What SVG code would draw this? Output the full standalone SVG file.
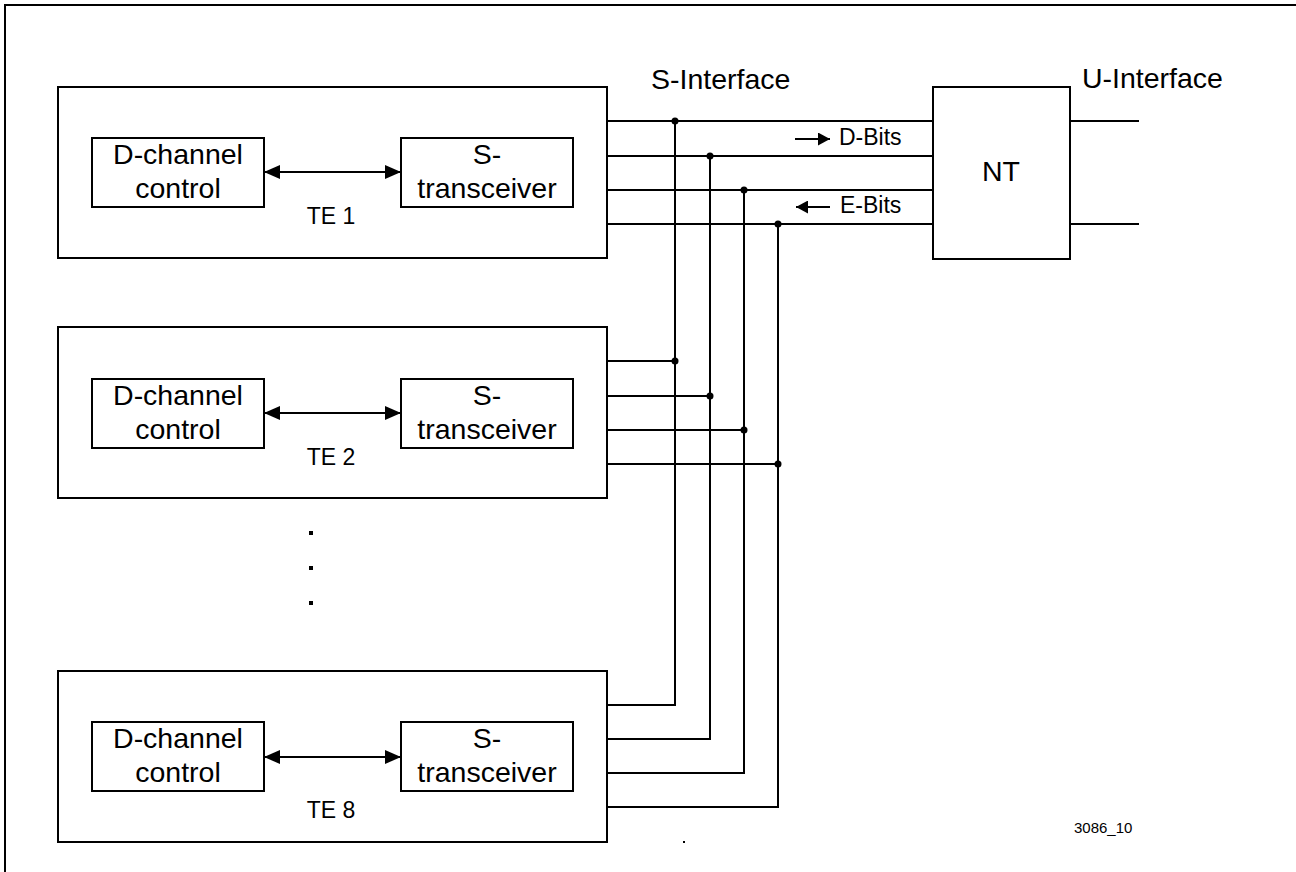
<svg xmlns="http://www.w3.org/2000/svg" width="1296" height="872" viewBox="0 0 1296 872">
<style>
.box{fill:#fff;stroke:#000;stroke-width:2}
.ln{fill:none;stroke:#000;stroke-width:2}
.t{font-family:"Liberation Sans",Arial,sans-serif;fill:#000}
.big{font-size:28.5px}
.mid{font-size:23px}
.sm{font-size:15px}
</style>
<defs>
<marker id="ah" viewBox="0 0 16 14" refX="16" refY="7" markerWidth="16" markerHeight="14" markerUnits="userSpaceOnUse" orient="auto-start-reverse">
<path d="M0,0 L16,7 L0,14 z" fill="#000"/>
</marker>
<marker id="ah2" viewBox="0 0 12 13" refX="12" refY="6.5" markerWidth="12" markerHeight="13" markerUnits="userSpaceOnUse" orient="auto">
<path d="M0,0 L12,6.5 L0,13 z" fill="#000"/>
</marker>
</defs>
<rect width="1296" height="872" fill="#fff"/>
<path class="ln" d="M5,872 V5 H1296"/>

<g id="te1">
<rect class="box" x="58" y="87" width="549" height="171"/>
<rect class="box" x="92" y="138" width="172" height="69"/>
<text class="t big" x="178" y="164" text-anchor="middle">D-channel</text>
<text class="t big" x="178" y="198" text-anchor="middle">control</text>
<rect class="box" x="401" y="138" width="172" height="69"/>
<text class="t big" x="487" y="164" text-anchor="middle">S-</text>
<text class="t big" x="487" y="198" text-anchor="middle">transceiver</text>
<line class="ln" x1="264" y1="172" x2="401" y2="172" marker-start="url(#ah)" marker-end="url(#ah)"/>
<text class="t mid" x="331" y="224" text-anchor="middle">TE 1</text>
</g>

<g id="te2" transform="translate(0,240)">
<rect class="box" x="58" y="87" width="549" height="171"/>
<rect class="box" x="92" y="139" width="172" height="69"/>
<text class="t big" x="178" y="165" text-anchor="middle">D-channel</text>
<text class="t big" x="178" y="199" text-anchor="middle">control</text>
<rect class="box" x="401" y="139" width="172" height="69"/>
<text class="t big" x="487" y="165" text-anchor="middle">S-</text>
<text class="t big" x="487" y="199" text-anchor="middle">transceiver</text>
<line class="ln" x1="264" y1="173" x2="401" y2="173" marker-start="url(#ah)" marker-end="url(#ah)"/>
<text class="t mid" x="331" y="225" text-anchor="middle">TE 2</text>
</g>

<g id="te8" transform="translate(0,584)">
<rect class="box" x="58" y="87" width="549" height="171"/>
<rect class="box" x="92" y="138" width="172" height="69"/>
<text class="t big" x="178" y="164" text-anchor="middle">D-channel</text>
<text class="t big" x="178" y="198" text-anchor="middle">control</text>
<rect class="box" x="401" y="138" width="172" height="69"/>
<text class="t big" x="487" y="164" text-anchor="middle">S-</text>
<text class="t big" x="487" y="198" text-anchor="middle">transceiver</text>
<line class="ln" x1="264" y1="173" x2="401" y2="173" marker-start="url(#ah)" marker-end="url(#ah)"/>
<text class="t mid" x="331" y="234" text-anchor="middle">TE 8</text>
</g>

<g id="nt">
<rect class="box" x="933" y="87" width="137" height="172"/>
<text class="t big" x="1001" y="181" text-anchor="middle">NT</text>
</g>

<g id="ellipsis">
<rect x="309" y="531" width="4" height="4" fill="#000"/>
<rect x="309" y="566" width="4" height="4" fill="#000"/>
<rect x="309" y="601" width="4" height="4" fill="#000"/>
</g>

<g id="connectors">
<path class="ln" d="M607,121 H933 M607,156 H933 M607,190 H933 M607,224 H933"/>
<path class="ln" d="M675,121 V705 H607 M710,156 V739 H607 M744,190 V773 H607 M778,224 V807 H607"/>
<path class="ln" d="M607,361 H675 M607,396 H710 M607,430 H744 M607,464 H778"/>
<path class="ln" d="M1070,121 H1139 M1070,224 H1139"/>
<g fill="#000">
<circle cx="675" cy="121" r="3.5"/>
<circle cx="710" cy="156" r="3.5"/>
<circle cx="744" cy="190" r="3.5"/>
<circle cx="778" cy="224" r="3.5"/>
<circle cx="675" cy="361" r="3.5"/>
<circle cx="710" cy="396" r="3.5"/>
<circle cx="744" cy="430" r="3.5"/>
<circle cx="778" cy="464" r="3.5"/>
</g>
<line class="ln" x1="795" y1="139" x2="830" y2="139" marker-end="url(#ah2)"/>
<line class="ln" x1="830" y1="207" x2="796" y2="207" marker-end="url(#ah2)"/>
</g>

<g id="labels">
<text class="t big" x="651" y="89">S-Interface</text>
<text class="t big" x="1082" y="88">U-Interface</text>
<text class="t mid" x="839" y="145">D-Bits</text>
<text class="t mid" x="840" y="213">E-Bits</text>
<text class="t sm" x="1074" y="833">3086_10</text>
<rect x="683" y="841" width="2" height="2" fill="#000"/>
</g>
</svg>
